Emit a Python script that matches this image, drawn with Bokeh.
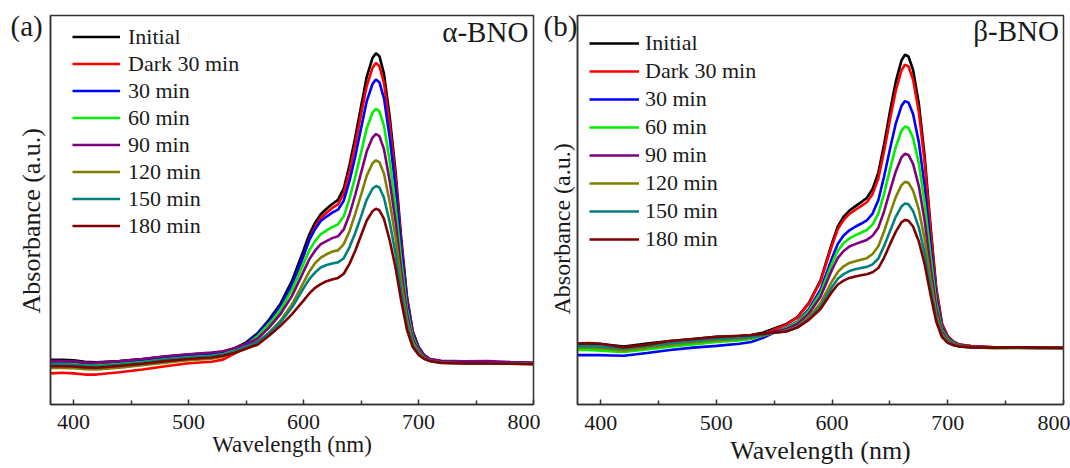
from bokeh.plotting import figure
from bokeh.layouts import row
from bokeh.models import Range1d, FixedTicker, Label, Title
from bokeh.embed import file_html
from bokeh.resources import INLINE

# ---------------- data ----------------
wavelength = [380, 390, 400, 410, 420, 440, 460, 480, 500, 520, 530,
              540, 550, 560, 570, 580, 590,
              600, 605, 610, 615, 620, 625, 630, 635, 640, 645, 650, 655, 660,
              663, 666, 670, 675, 680, 685, 690, 695, 700, 705, 710,
              720, 740, 760, 780, 800]

series_names = ["Initial", "Dark 30 min", "30 min", "60 min", "90 min",
                "120 min", "150 min", "180 min"]
series_colors = ["#000000", "#ff0000", "#0000ff", "#00ee00", "#800080",
                 "#808000", "#008080", "#800000"]

# alpha-BNO (panel a)
a_initial = [0.149, 0.149, 0.148, 0.143, 0.141, 0.145, 0.152, 0.160, 0.167, 0.172, 0.176,
             0.188, 0.207, 0.238, 0.283, 0.337, 0.413,
             0.515, 0.568, 0.607, 0.636, 0.654, 0.670, 0.684, 0.722, 0.800, 0.893, 0.995, 1.095, 1.158,
             1.174, 1.164, 1.105, 0.960, 0.780, 0.555, 0.360, 0.245, 0.193, 0.165, 0.152,
             0.144, 0.141, 0.141, 0.139, 0.137]
a_dark30 = [0.104, 0.106, 0.104, 0.100, 0.100, 0.108, 0.117, 0.128, 0.138, 0.143, 0.150,
            0.170, 0.192, 0.220, 0.259, 0.313, 0.391,
            0.496, 0.551, 0.593, 0.624, 0.641, 0.657, 0.669, 0.705, 0.779, 0.869, 0.968, 1.064, 1.125,
            1.141, 1.131, 1.074, 0.934, 0.760, 0.542, 0.353, 0.242, 0.191, 0.164, 0.151,
            0.142, 0.139, 0.139, 0.138, 0.137]
a_30 = [0.140, 0.140, 0.139, 0.135, 0.134, 0.139, 0.146, 0.155, 0.162, 0.167, 0.172,
        0.185, 0.203, 0.234, 0.278, 0.330, 0.402,
        0.498, 0.549, 0.586, 0.613, 0.628, 0.641, 0.651, 0.681, 0.747, 0.829, 0.922, 1.014, 1.071,
        1.086, 1.077, 1.023, 0.890, 0.726, 0.520, 0.341, 0.236, 0.189, 0.163, 0.151,
        0.143, 0.141, 0.141, 0.139, 0.137]
a_60 = [0.136, 0.136, 0.135, 0.131, 0.130, 0.135, 0.142, 0.151, 0.158, 0.163, 0.168,
        0.182, 0.199, 0.228, 0.269, 0.316, 0.384,
        0.470, 0.515, 0.546, 0.569, 0.582, 0.593, 0.602, 0.629, 0.688, 0.761, 0.841, 0.923, 0.975,
        0.988, 0.980, 0.931, 0.812, 0.665, 0.480, 0.320, 0.226, 0.183, 0.160, 0.150,
        0.142, 0.140, 0.140, 0.138, 0.137]
a_90 = [0.145, 0.145, 0.144, 0.140, 0.139, 0.145, 0.152, 0.161, 0.168, 0.174, 0.178,
        0.188, 0.202, 0.220, 0.257, 0.302, 0.363,
        0.444, 0.485, 0.514, 0.536, 0.546, 0.556, 0.562, 0.585, 0.635, 0.701, 0.773, 0.846, 0.892,
        0.904, 0.897, 0.853, 0.746, 0.613, 0.447, 0.303, 0.218, 0.180, 0.160, 0.152,
        0.146, 0.144, 0.145, 0.142, 0.140]
a_120 = [0.122, 0.122, 0.121, 0.118, 0.117, 0.123, 0.131, 0.140, 0.148, 0.153, 0.160,
         0.175, 0.188, 0.207, 0.240, 0.280, 0.335,
         0.407, 0.444, 0.472, 0.491, 0.502, 0.511, 0.515, 0.536, 0.579, 0.637, 0.700, 0.765, 0.806,
         0.816, 0.810, 0.771, 0.676, 0.559, 0.411, 0.284, 0.209, 0.175, 0.156, 0.147,
         0.140, 0.137, 0.137, 0.136, 0.135]
a_150 = [0.134, 0.134, 0.133, 0.129, 0.128, 0.133, 0.140, 0.149, 0.156, 0.161, 0.166,
         0.178, 0.192, 0.209, 0.239, 0.275, 0.324,
         0.388, 0.419, 0.441, 0.458, 0.466, 0.471, 0.475, 0.489, 0.526, 0.573, 0.628, 0.685, 0.721,
         0.730, 0.725, 0.691, 0.608, 0.505, 0.377, 0.266, 0.200, 0.170, 0.154, 0.146,
         0.140, 0.138, 0.138, 0.137, 0.136]
a_180 = [0.128, 0.128, 0.127, 0.124, 0.123, 0.129, 0.136, 0.145, 0.152, 0.157, 0.163,
         0.172, 0.186, 0.200, 0.230, 0.263, 0.302,
         0.347, 0.371, 0.390, 0.402, 0.412, 0.418, 0.423, 0.437, 0.470, 0.514, 0.565, 0.615, 0.646,
         0.654, 0.649, 0.620, 0.548, 0.458, 0.346, 0.249, 0.192, 0.166, 0.152, 0.145,
         0.139, 0.137, 0.137, 0.136, 0.135]

# beta-BNO (panel b)
b_initial = [0.203, 0.204, 0.202, 0.198, 0.194, 0.204, 0.212, 0.219, 0.226, 0.229, 0.232,
             0.240, 0.254, 0.268, 0.292, 0.340, 0.415,
             0.540, 0.595, 0.628, 0.648, 0.662, 0.676, 0.690, 0.720, 0.775, 0.870, 0.978, 1.078, 1.150,
             1.169, 1.163, 1.118, 1.005, 0.830, 0.600, 0.390, 0.270, 0.228, 0.210, 0.200,
             0.195, 0.191, 0.191, 0.190, 0.190]
b_dark30 = [0.187, 0.188, 0.186, 0.182, 0.179, 0.189, 0.198, 0.206, 0.214, 0.219, 0.224,
            0.234, 0.250, 0.266, 0.290, 0.337, 0.411,
            0.532, 0.586, 0.617, 0.637, 0.650, 0.663, 0.676, 0.703, 0.755, 0.847, 0.951, 1.048, 1.117,
            1.136, 1.130, 1.086, 0.977, 0.808, 0.586, 0.383, 0.267, 0.227, 0.209, 0.200,
            0.195, 0.191, 0.191, 0.190, 0.190]
b_30 = [0.165, 0.165, 0.165, 0.164, 0.163, 0.172, 0.182, 0.190, 0.196, 0.203, 0.209,
        0.222, 0.240, 0.256, 0.277, 0.319, 0.384,
        0.490, 0.537, 0.565, 0.582, 0.594, 0.604, 0.615, 0.638, 0.683, 0.763, 0.853, 0.938, 0.998,
        1.014, 1.009, 0.971, 0.876, 0.729, 0.535, 0.358, 0.257, 0.222, 0.207, 0.198,
        0.193, 0.190, 0.190, 0.189, 0.189]
b_60 = [0.182, 0.182, 0.180, 0.177, 0.176, 0.184, 0.193, 0.201, 0.209, 0.214, 0.219,
        0.230, 0.244, 0.254, 0.274, 0.313, 0.373,
        0.472, 0.514, 0.540, 0.555, 0.565, 0.574, 0.583, 0.601, 0.638, 0.705, 0.785, 0.860, 0.915,
        0.929, 0.925, 0.891, 0.805, 0.673, 0.500, 0.341, 0.250, 0.219, 0.205, 0.197,
        0.192, 0.189, 0.189, 0.189, 0.189]
b_90 = [0.195, 0.195, 0.193, 0.189, 0.186, 0.195, 0.203, 0.210, 0.217, 0.222, 0.226,
        0.233, 0.245, 0.251, 0.269, 0.304, 0.360,
        0.451, 0.490, 0.513, 0.528, 0.536, 0.543, 0.550, 0.564, 0.591, 0.646, 0.713, 0.778, 0.826,
        0.838, 0.834, 0.804, 0.730, 0.614, 0.461, 0.322, 0.243, 0.215, 0.203, 0.196,
        0.192, 0.190, 0.190, 0.189, 0.189]
b_120 = [0.190, 0.190, 0.188, 0.184, 0.181, 0.190, 0.199, 0.207, 0.214, 0.219, 0.223,
         0.230, 0.240, 0.246, 0.261, 0.292, 0.339,
         0.412, 0.443, 0.462, 0.473, 0.479, 0.484, 0.489, 0.503, 0.529, 0.579, 0.637, 0.693, 0.733,
         0.744, 0.741, 0.715, 0.651, 0.552, 0.422, 0.303, 0.235, 0.211, 0.201, 0.195,
         0.191, 0.189, 0.189, 0.189, 0.189]
b_150 = [0.195, 0.196, 0.194, 0.190, 0.187, 0.196, 0.205, 0.212, 0.219, 0.223, 0.226,
         0.232, 0.240, 0.245, 0.259, 0.286, 0.327,
         0.393, 0.420, 0.436, 0.446, 0.452, 0.456, 0.460, 0.468, 0.488, 0.530, 0.579, 0.627, 0.662,
         0.672, 0.669, 0.647, 0.591, 0.505, 0.392, 0.288, 0.229, 0.208, 0.199, 0.194,
         0.191, 0.189, 0.190, 0.189, 0.189]
b_180 = [0.204, 0.205, 0.203, 0.197, 0.191, 0.200, 0.212, 0.219, 0.226, 0.230, 0.232,
         0.236, 0.241, 0.243, 0.257, 0.283, 0.319,
         0.377, 0.401, 0.414, 0.423, 0.428, 0.432, 0.435, 0.442, 0.456, 0.491, 0.535, 0.577, 0.609,
         0.617, 0.614, 0.595, 0.545, 0.469, 0.369, 0.277, 0.225, 0.206, 0.198, 0.194,
         0.191, 0.190, 0.191, 0.190, 0.189]

x_major_ticks = [400, 500, 600, 700, 800]
x_minor_ticks = [450, 550, 650, 750]

alpha_series = [a_initial, a_dark30, a_30, a_60, a_90, a_120, a_150, a_180]
beta_series = [b_initial, b_dark30, b_30, b_60, b_90, b_120, b_150, b_180]

FONT = "Times New Roman"
TXT = "#1a1a1a"
FRAME = "#333333"


def make_panel(series, width, height, mb_left, mb_right, mb_top, mb_bottom,
               tag, tag_offset, tag_standoff, tag_size,
               name, name_x, name_y,
               ylabel_size, ylabel_offset, ylabel_standoff,
               xlabel_size, tick_standoff, xlabel_standoff,
               legend_loc, glyph_w, standoff, row_h):
    p = figure(width=width, height=height, output_backend="svg",
               toolbar_location=None, x_range=Range1d(380, 800),
               y_range=Range1d(0, 1.3),
               min_border_left=mb_left, min_border_right=mb_right,
               min_border_top=mb_top, min_border_bottom=mb_bottom)
    p.background_fill_color = "white"
    p.border_fill_color = "white"
    p.grid.visible = False
    p.outline_line_color = FRAME
    p.outline_line_width = 1.5
    p.outline_line_alpha = 1.0

    for vals, nm, col in zip(series, series_names, series_colors):
        p.line(wavelength, vals, line_color=col, line_width=2.6, legend_label=nm)

    xa = p.xaxis[0]
    xa.ticker = FixedTicker(ticks=x_major_ticks, minor_ticks=x_minor_ticks)
    xa.major_tick_in = 5
    xa.major_tick_out = 0
    xa.minor_tick_in = 4
    xa.minor_tick_out = 0
    xa.axis_line_color = FRAME
    xa.axis_line_width = 1.5
    xa.major_tick_line_color = FRAME
    xa.minor_tick_line_color = FRAME
    xa.major_tick_line_width = 1.5
    xa.minor_tick_line_width = 1.5
    xa.major_label_text_font = FONT
    xa.major_label_text_font_size = "22px"
    xa.major_label_text_color = TXT
    xa.major_label_standoff = tick_standoff
    xa.axis_label = "Wavelength (nm)"
    xa.axis_label_text_font = FONT
    xa.axis_label_text_font_style = "normal"
    xa.axis_label_text_font_size = xlabel_size
    xa.axis_label_text_color = TXT
    xa.axis_label_standoff = xlabel_standoff

    ya = p.yaxis[0]
    ya.ticker = FixedTicker(ticks=[])
    ya.major_tick_in = 0
    ya.major_tick_out = 0
    ya.minor_tick_in = 0
    ya.minor_tick_out = 0
    ya.axis_line_color = FRAME
    ya.axis_line_width = 1.5

    # y-axis title (vertical), set slightly below the frame centre as in the original
    p.add_layout(Title(text="Absorbance (a.u.)", align="left", vertical_align="bottom",
                       offset=ylabel_offset, standoff=ylabel_standoff,
                       text_font=FONT, text_font_size=ylabel_size,
                       text_font_style="normal", text_color=TXT), "left")

    lg = p.legend[0]
    lg.location = legend_loc
    lg.label_text_font = FONT
    lg.label_text_font_size = "22px"
    lg.label_text_color = TXT
    lg.glyph_width = glyph_w
    lg.glyph_height = row_h
    lg.label_height = row_h
    lg.spacing = 0
    lg.padding = 0
    lg.margin = 0
    lg.label_standoff = standoff
    lg.background_fill_alpha = 0
    lg.border_line_alpha = 0

    # sample name inside the frame, top right
    p.add_layout(Label(x=name_x, y=name_y, text=name, text_font=FONT,
                       text_font_size="29px", text_color=TXT,
                       text_align="right", text_baseline="middle"))

    # panel tag, drawn in the top border to the left of the frame
    p.add_layout(Title(text=tag, align="left", vertical_align="bottom",
                       offset=tag_offset, standoff=tag_standoff,
                       text_font=FONT, text_font_size=tag_size,
                       text_font_style="normal", text_color=TXT), "above")
    return p


pa = make_panel(alpha_series, 540, 468, 50, 7, 14, 64,
                "(a)", -40, -52, "29px",
                "\u03b1-BNO", 795.5, 1.245,
                "26px", 91, 10,
                "23px", 10, 0,
                (22, 165), 48, 8, 27)

pb = make_panel(beta_series, 530, 468, 37, 7, 15, 60,
                "(b)", -34, -52, "29px",
                "\u03b2-BNO", 796, 1.247,
                "24px", 90, 6,
                "26px", 11, 3,
                (12, 151), 50, 6, 28)

layout = row(pa, pb)
open("out.html", "w").write(file_html(layout, INLINE))
